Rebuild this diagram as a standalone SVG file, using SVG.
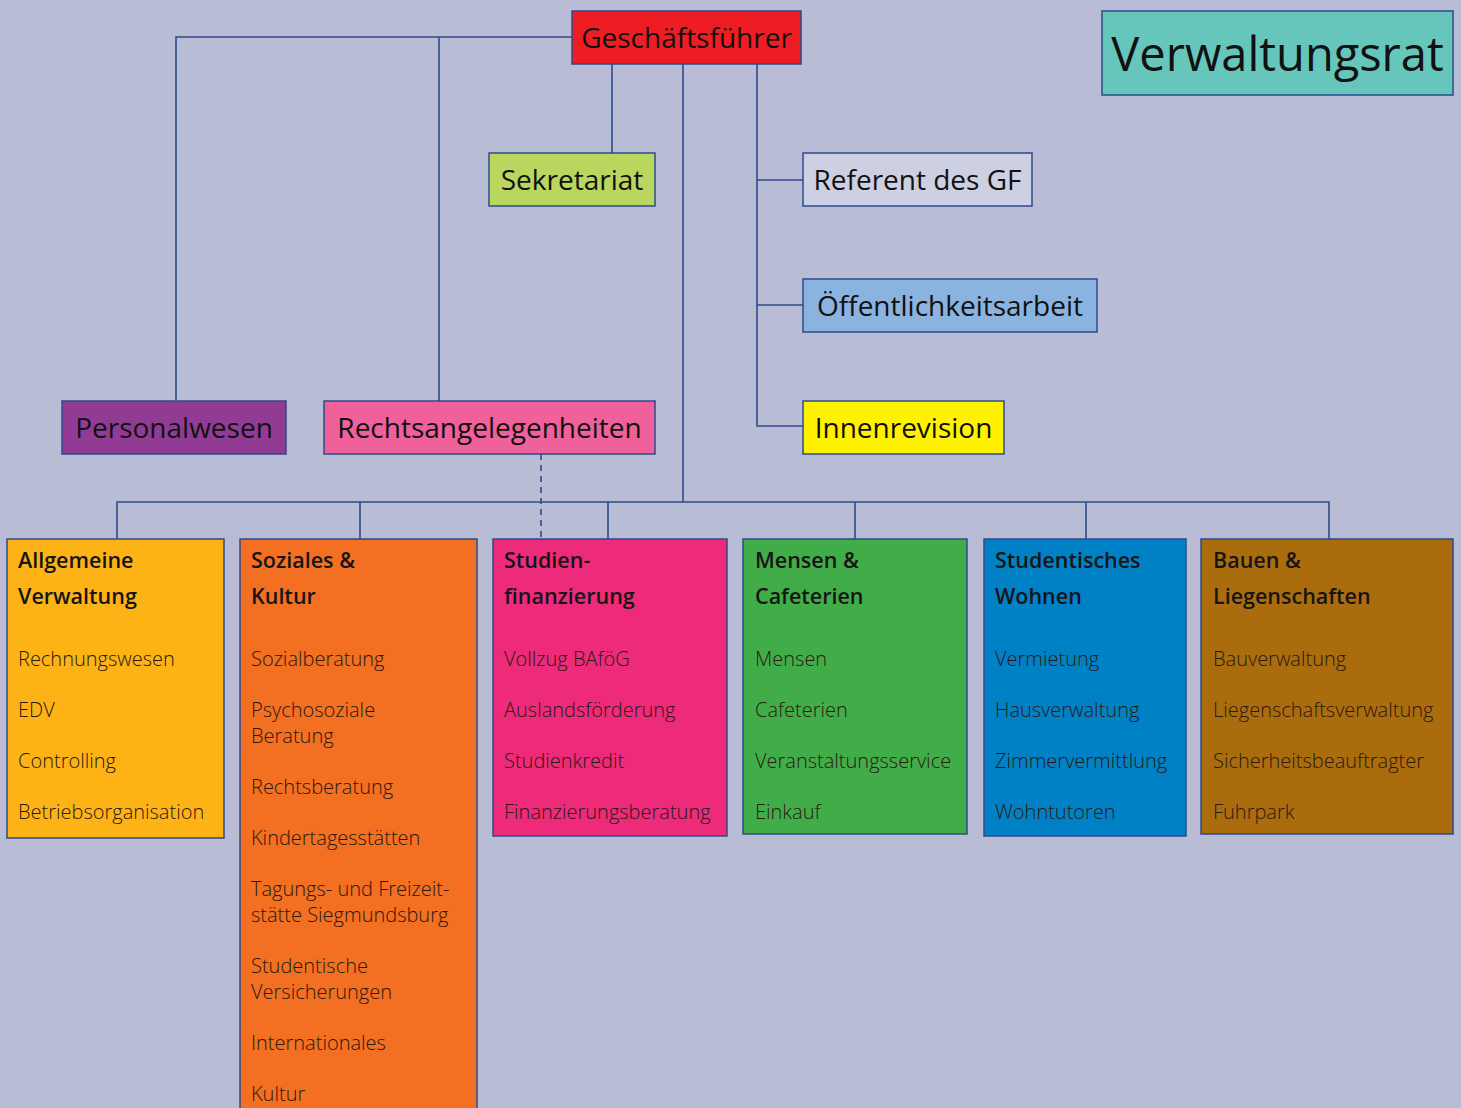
<svg xmlns="http://www.w3.org/2000/svg" width="1461" height="1108" viewBox="0 0 1461 1108">
<style>
.bx{stroke:#2e4a8a;stroke-width:1.5}
.top{font-family:"Open Sans","DejaVu Sans",sans-serif;font-size:28px;fill:#111;text-anchor:middle}
.hd{font-family:"Open Sans","DejaVu Sans",sans-serif;font-size:21.5px;font-weight:600;fill:#151515}
.it{font-family:"Open Sans","DejaVu Sans",sans-serif;font-size:20px;font-weight:300;fill:#2a1a10}
.ln{stroke:#2e4a8a;stroke-width:1.6;fill:none}
</style>
<rect width="1461" height="1108" fill="#b9bcd5"/>
<g id="connectors">
<path class="ln" d="M572,37H176V401M439,37V401M612,64V153M683,64V502M757,64V426H803M757,180H803M757,305H803M117,539V502H1329V539M360,502V539M608,502V539M855,502V539M1086,502V539"/>
<path class="ln" d="M541,454V539" stroke-dasharray="6,5"/>
</g>
<g id="gf"><rect class="bx" x="572" y="11" width="229" height="53" fill="#ee1d24"/><text class="top" x="686.5" y="48">Geschäftsführer</text></g>
<g id="vr"><rect class="bx" x="1102" y="11" width="351" height="84" fill="#66c6bb"/><text class="top" x="1277.5" y="71" style="font-size:47px">Verwaltungsrat</text></g>
<g id="sek"><rect class="bx" x="489" y="153" width="166" height="53" fill="#b9d65e"/><text class="top" x="572" y="190">Sekretariat</text></g>
<g id="ref"><rect class="bx" x="803" y="153" width="229" height="53" fill="#cdcfe3"/><text class="top" x="917.5" y="190">Referent des GF</text></g>
<g id="oeff"><rect class="bx" x="803" y="279" width="294" height="53" fill="#8bb3e0"/><text class="top" x="950" y="316">Öffentlichkeitsarbeit</text></g>
<g id="innen"><rect class="bx" x="803" y="401" width="201" height="53" fill="#fff200"/><text class="top" x="903.5" y="438">Innenrevision</text></g>
<g id="pers"><rect class="bx" x="62" y="401" width="224" height="53" fill="#923b95"/><text class="top" x="174" y="438">Personalwesen</text></g>
<g id="recht"><rect class="bx" x="324" y="401" width="331" height="53" fill="#f0609a"/><text class="top" x="489.5" y="438">Rechtsangelegenheiten</text></g>

<g id="allg"><rect class="bx" x="7" y="539" width="217" height="299" fill="#fdb316"/>
<text class="hd" x="18" y="568">Allgemeine</text><text class="hd" x="18" y="604">Verwaltung</text>
<text class="it" x="18" y="666">Rechnungswesen</text><text class="it" x="18" y="717">EDV</text><text class="it" x="18" y="768">Controlling</text><text class="it" x="18" y="819">Betriebsorganisation</text></g>

<g id="soz"><rect class="bx" x="240" y="539" width="237" height="580" fill="#f36f21"/>
<text class="hd" x="251" y="568">Soziales &amp;</text><text class="hd" x="251" y="604">Kultur</text>
<text class="it" x="251" y="666">Sozialberatung</text>
<text class="it" x="251" y="717">Psychosoziale</text><text class="it" x="251" y="743">Beratung</text>
<text class="it" x="251" y="794">Rechtsberatung</text>
<text class="it" x="251" y="845">Kindertagesstätten</text>
<text class="it" x="251" y="896">Tagungs- und Freizeit-</text><text class="it" x="251" y="922">stätte Siegmundsburg</text>
<text class="it" x="251" y="973">Studentische</text><text class="it" x="251" y="999">Versicherungen</text>
<text class="it" x="251" y="1050">Internationales</text>
<text class="it" x="251" y="1101">Kultur</text></g>

<g id="stud"><rect class="bx" x="493" y="539" width="234" height="297" fill="#ee2a7b"/>
<text class="hd" x="504" y="568">Studien-</text><text class="hd" x="504" y="604">finanzierung</text>
<text class="it" x="504" y="666">Vollzug BAföG</text><text class="it" x="504" y="717">Auslandsförderung</text><text class="it" x="504" y="768">Studienkredit</text><text class="it" x="504" y="819">Finanzierungsberatung</text></g>

<g id="mensen"><rect class="bx" x="743" y="539" width="224" height="295" fill="#41ad49"/>
<text class="hd" x="755" y="568">Mensen &amp;</text><text class="hd" x="755" y="604">Cafeterien</text>
<text class="it" x="755" y="666">Mensen</text><text class="it" x="755" y="717">Cafeterien</text><text class="it" x="755" y="768">Veranstaltungsservice</text><text class="it" x="755" y="819">Einkauf</text></g>

<g id="wohnen"><rect class="bx" x="984" y="539" width="202" height="297" fill="#0081c6"/>
<text class="hd" x="995" y="568">Studentisches</text><text class="hd" x="995" y="604">Wohnen</text>
<text class="it" x="995" y="666">Vermietung</text><text class="it" x="995" y="717">Hausverwaltung</text><text class="it" x="995" y="768">Zimmervermittlung</text><text class="it" x="995" y="819">Wohntutoren</text></g>

<g id="bauen"><rect class="bx" x="1201" y="539" width="252" height="295" fill="#ab6c0d"/>
<text class="hd" x="1213" y="568">Bauen &amp;</text><text class="hd" x="1213" y="604">Liegenschaften</text>
<text class="it" x="1213" y="666">Bauverwaltung</text><text class="it" x="1213" y="717">Liegenschaftsverwaltung</text><text class="it" x="1213" y="768">Sicherheitsbeauftragter</text><text class="it" x="1213" y="819">Fuhrpark</text></g>
</svg>
